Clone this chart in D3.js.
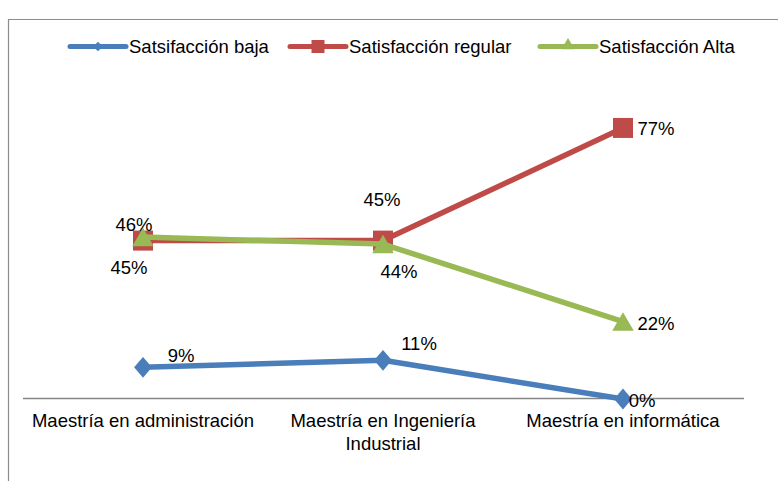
<!DOCTYPE html>
<html><head><meta charset="utf-8">
<script src="https://cdn.jsdelivr.net/npm/d3@7"></script>
<style>body{margin:0;background:#fff}svg{display:block;font-family:"Liberation Sans",Arial,sans-serif}</style>
</head><body><svg id="c" width="778" height="483"></svg>
<script>
const categories = ["Maestría en administración", "Maestría en Ingeniería Industrial", "Maestría en informática"];
const seriesNames = ["Satsifacción baja", "Satisfacción regular", "Satisfacción Alta"];
const baja = [0.09, 0.11, 0.00];
const regular = [0.45, 0.45, 0.77];
const alta = [0.46, 0.44, 0.22];
const colors = ["#4a7ebb", "#be4b48", "#98b954"];
const symbols = [d3.symbolDiamond2, d3.symbolSquare, d3.symbolTriangle];
// label offsets (dx, dy) relative to point, per series per point
const labelOffsets = [
  [[38, -12], [36, -17], [19, 1]],
  [[-14, 27], [-1, -41], [33, 1]],
  [[-9, -13], [16, 27], [33, 2]]
];

const FS = 18.5;
const svg = d3.select("#c");
svg.append("path").attr("d", "M8.5,481V19.5H790")
  .attr("fill", "none").attr("stroke", "#8c8c8c").attr("stroke-width", 1.2);

const x = d3.scalePoint().domain(categories).range([143, 623]);
const y = d3.scaleLinear().domain([0, 0.9]).range([399, 82.2]);

// axis
const axis = d3.axisBottom(x).tickSize(0).tickFormat(() => "");
const ag = svg.append("g").attr("transform", "translate(0,399)").call(axis);
ag.select(".domain").remove();
svg.append("line").attr("x1", 23).attr("x2", 744).attr("y1", 398.5).attr("y2", 398.5)
  .attr("stroke", "#868686").attr("stroke-width", 1.5);

const catLines = [["Maestría en administración"], ["Maestría en Ingeniería", "Industrial"], ["Maestría en informática"]];
categories.forEach((c, i) => {
  const t = svg.append("text").attr("x", x(c)).attr("y", 427).attr("text-anchor", "middle")
    .attr("font-size", FS).attr("fill", "#000");
  catLines[i].forEach((l, j) => t.append("tspan").attr("x", x(c)).attr("dy", j ? 23 : 0).text(l));
});

const data = [baja, regular, alta];
const symSizes = [250, 400, 200];
data.forEach((vals, si) => {
  const g = svg.append("g");
  g.append("path").datum(vals)
    .attr("d", d3.line().x((d, i) => x(categories[i])).y(d => y(d)))
    .attr("fill", "none").attr("stroke", colors[si]).attr("stroke-width", 5.5)
    .attr("stroke-linejoin", "round");
  vals.forEach((v, i) => {
    const sy = si === 2 ? 3 : 0;
    g.append("path").attr("d", d3.symbol().type(symbols[si]).size(symSizes[si])())
      .attr("transform", `translate(${x(categories[i])},${y(v) + sy})${si===0 ? " scale(0.9,1.05)" : ""}`)
      .attr("fill", colors[si]);
  });
});
data.forEach((vals, si) => {
  vals.forEach((v, i) => {
    const [dx, dy] = labelOffsets[si][i];
    svg.append("text").attr("x", x(categories[i]) + dx).attr("y", y(v) + dy + 6.5)
      .attr("text-anchor", "middle").attr("font-size", FS).attr("fill", "#000")
      .text(d3.format(".0%")(v));
  });
});

// legend
const legendX = [70, 290, 540];
seriesNames.forEach((n, i) => {
  const g = svg.append("g").attr("transform", `translate(${legendX[i]},46.5)`);
  g.append("line").attr("x1", 0).attr("x2", 56).attr("stroke", colors[i]).attr("stroke-width", 5)
    .attr("stroke-linecap", "round");
  const sz = [60, 169, 75][i];
  g.append("path").attr("d", d3.symbol().type(symbols[i]).size(sz)())
    .attr("transform", `translate(28,${i===2?-1:0})`).attr("fill", colors[i]);
  g.append("text").attr("x", 59).attr("y", 6.5).attr("font-size", FS).attr("fill", "#000").text(n);
});
</script></body></html>
